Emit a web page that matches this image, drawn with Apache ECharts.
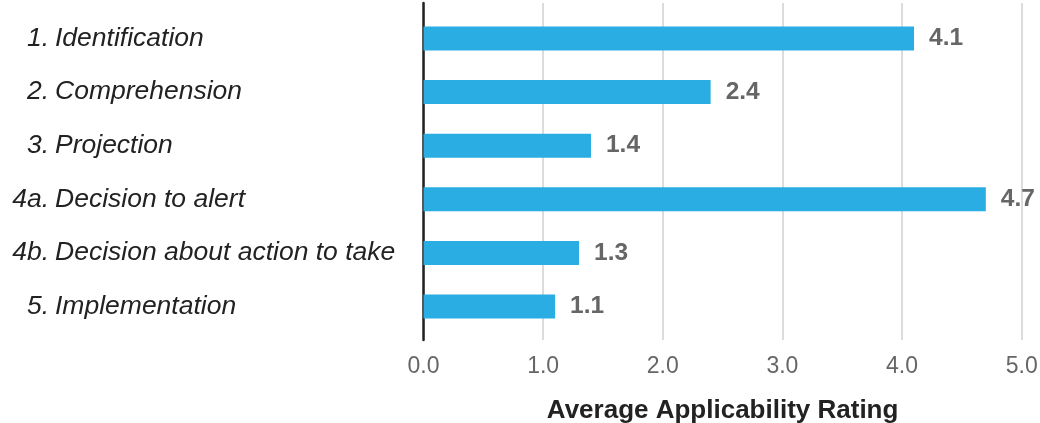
<!DOCTYPE html>
<html>
<head>
<meta charset="utf-8">
<script src="https://cdn.jsdelivr.net/npm/echarts@6/dist/echarts.min.js"></script>
<style>
  html, body { margin: 0; padding: 0; background: #ffffff; }
  #chart { width: 1040px; height: 423px; }
</style>
</head>
<body>
<div id="chart"></div>
<script>
// Steps of the decision process, top to bottom
const categories = [
  '1. Identification',
  '2. Comprehension',
  '3. Projection',
  '4a. Decision to alert',
  '4b. Decision about action to take',
  '5. Implementation'
];
// Average applicability rating per step
const ratings = [4.1, 2.4, 1.4, 4.7, 1.3, 1.1];
// Value-axis range and step
const axisMin = 0;
const axisMax = 5;
const axisStep = 1;

const chart = echarts.init(document.getElementById('chart'), null, { renderer: 'canvas' });

const FONT = '"Liberation Sans", Arial, Helvetica, sans-serif';
const PLOT_LEFT = 423.5;
const PLOT_RIGHT = 18.3;

// step number ("4a.") and step name are laid out in two columns
const stepNumber = s => s.slice(0, s.indexOf(' '));
const stepName = s => s.slice(s.indexOf(' ') + 1);

const catLabel = {
  fontFamily: FONT,
  fontStyle: 'italic',
  fontSize: 26.5,
  color: '#222222'
};

function categoryAxis(formatter, align, margin) {
  return {
    gridIndex: 1,
    type: 'category',
    data: categories,
    inverse: true,
    position: 'left',
    axisLine: { show: false },
    axisTick: { show: false },
    splitLine: { show: false },
    axisLabel: Object.assign({ align: align, margin: margin, formatter: formatter }, catLabel)
  };
}

chart.setOption({
  animation: false,
  backgroundColor: '#ffffff',
  grid: [
    // frame grid: vertical gridlines, left axis line, value axis labels + title
    { left: PLOT_LEFT, right: PLOT_RIGHT, top: 3, bottom: 83, containLabel: false, outerBoundsMode: 'none' },
    // bar grid: category bands
    { left: PLOT_LEFT, right: PLOT_RIGHT, top: 11.7, bottom: 89.7, containLabel: false, outerBoundsMode: 'none' }
  ],
  xAxis: [
    {
      gridIndex: 0,
      type: 'value',
      min: axisMin,
      max: axisMax,
      interval: axisStep,
      axisLine: { show: false },
      axisTick: { show: false },
      splitLine: { show: true, lineStyle: { color: '#dcdcdc', width: 2 } },
      axisLabel: {
        margin: 15,
        fontFamily: FONT,
        fontSize: 23,
        lineHeight: 23,
        color: '#666666',
        formatter: v => v.toFixed(1)
      },
      name: 'Average Applicability Rating',
      nameLocation: 'middle',
      nameGap: 58,
      nameTextStyle: {
        fontFamily: FONT,
        fontSize: 26,
        lineHeight: 26,
        fontWeight: 'bold',
        color: '#222222'
      }
    },
    {
      gridIndex: 1,
      type: 'value',
      min: axisMin,
      max: axisMax,
      interval: axisStep,
      show: false
    }
  ],
  yAxis: [
    {
      gridIndex: 0,
      type: 'value',
      min: 0,
      max: 1,
      axisLine: { show: true, onZero: false, lineStyle: { color: '#222222', width: 2.5 } },
      axisTick: { show: false },
      axisLabel: { show: false },
      splitLine: { show: false }
    },
    categoryAxis(stepNumber, 'right', 374.5),
    categoryAxis(stepName, 'left', 368.5)
  ],
  series: [
    {
      type: 'bar',
      xAxisIndex: 1,
      yAxisIndex: 1,
      data: ratings,
      barWidth: 24,
      itemStyle: { color: '#2aade3' },
      label: {
        show: true,
        position: 'right',
        distance: 15,
        fontFamily: FONT,
        fontSize: 24.5,
        fontWeight: 'bold',
        color: '#666666',
        formatter: p => p.value.toFixed(1)
      }
    }
  ]
});
</script>
</body>
</html>
